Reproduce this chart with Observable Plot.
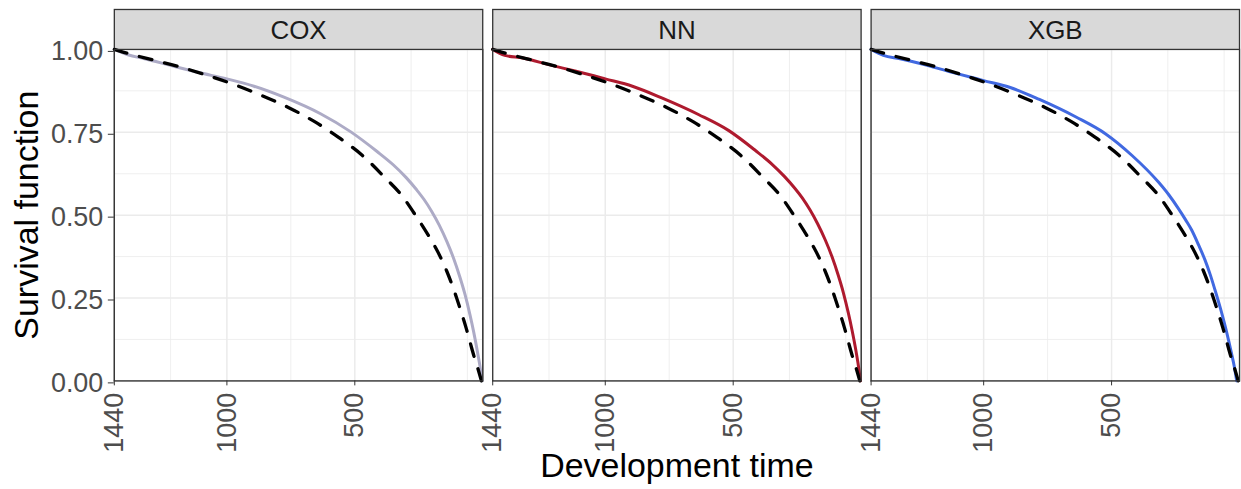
<!DOCTYPE html>
<html><head><meta charset="utf-8">
<script src="https://cdn.jsdelivr.net/npm/d3@7"></script>
<script src="https://cdn.jsdelivr.net/npm/@observablehq/plot@0.6"></script>
<style>
html,body{margin:0;padding:0;background:#fff;overflow:hidden;}
#chart svg{display:block;}
</style></head><body><div id="chart"></div>
<script>
const models = ["COX", "NN", "XGB"];
const modelColors = ["#ADABC6", "#AE1A2E", "#4169E1"];
const xTicks = [1440, 1000, 500];
const xMajorGrid = [1440, 1000, 500];
const xMinorGrid = [1220, 750, 280, 60];
const yTicks = [0, 0.25, 0.5, 0.75, 1];
const yMinorGrid = [0.125, 0.375, 0.625, 0.875];

// reference (dashed) survival curve, same in every panel
const refTime = [1440, 1406, 1293, 1192, 1082, 971, 864, 760, 657, 562, 470, 387, 309, 270, 244, 210, 183, 160, 140, 120, 101, 83, 65, 50, 34, 20, 5];
const refSurv = [1.000, 0.992, 0.969, 0.949, 0.923, 0.894, 0.861, 0.825, 0.782, 0.734, 0.680, 0.617, 0.552, 0.508, 0.478, 0.436, 0.400, 0.365, 0.330, 0.290, 0.248, 0.205, 0.160, 0.118, 0.074, 0.040, 0.000];

const coxTime = [1440, 1387, 1322, 1221, 1114, 1000, 894, 777, 634, 517, 413, 350, 300, 260, 230, 200, 170, 140, 114, 90, 69, 50, 36, 20, 8, 3];
const coxSurv = [1.000, 0.984, 0.972, 0.952, 0.931, 0.911, 0.889, 0.856, 0.806, 0.752, 0.692, 0.652, 0.614, 0.578, 0.548, 0.512, 0.470, 0.420, 0.370, 0.315, 0.260, 0.200, 0.150, 0.085, 0.030, 0.000];

const nnTime = [1440, 1393, 1322, 1221, 1114, 1000, 894, 777, 634, 517, 413, 350, 300, 260, 230, 200, 170, 140, 114, 90, 69, 50, 36, 20, 8, 3];
const nnSurv = [1.000, 0.982, 0.974, 0.954, 0.934, 0.911, 0.889, 0.853, 0.803, 0.755, 0.695, 0.655, 0.617, 0.582, 0.552, 0.516, 0.474, 0.425, 0.375, 0.320, 0.265, 0.205, 0.155, 0.090, 0.032, 0.000];

const xgbTime = [1440, 1392, 1327, 1221, 1119, 1000, 899, 782, 639, 523, 420, 316, 275, 238, 210, 187, 160, 135, 115, 96, 75, 57, 42, 31, 20, 11];
const xgbSurv = [1.000, 0.982, 0.972, 0.952, 0.930, 0.906, 0.886, 0.849, 0.796, 0.745, 0.680, 0.599, 0.560, 0.519, 0.485, 0.455, 0.410, 0.365, 0.322, 0.275, 0.220, 0.168, 0.120, 0.082, 0.042, 0.000];

const seriesTime = {COX: coxTime, NN: nnTime, XGB: xgbTime};
const seriesSurv = {COX: coxSurv, NN: nnSurv, XGB: xgbSurv};

const modelRows = models.flatMap(m => seriesTime[m].map((t, i) => ({model: m, t, s: seriesSurv[m][i]})));
const refRows = refTime.map((t, i) => ({t, s: refSurv[i]}));

const chart = Plot.plot({
  width: 1243,
  height: 489,
  marginLeft: 113,
  marginRight: 0,
  marginTop: 49,
  marginBottom: 108,
  style: {fontFamily: "'Liberation Sans', Arial, sans-serif", background: "white"},
  fx: {domain: models, paddingInner: 0.0263, paddingOuter: 0, axis: null, label: null},
  x: {domain: [1440, 0], label: null},
  y: {domain: [0, 1], label: null},
  color: {domain: models, range: modelColors},
  marks: [
    Plot.frame({fill: "#D9D9D9", stroke: "#333333", strokeWidth: 1.3, insetTop: -40}),
    Plot.frame({fill: "white"}),
    Plot.ruleY(yMinorGrid, {stroke: "#EBEBEB", strokeWidth: 0.8}),
    Plot.ruleX(xMinorGrid, {stroke: "#EBEBEB", strokeWidth: 0.8}),
    Plot.ruleY(yTicks, {stroke: "#EBEBEB", strokeWidth: 1.5}),
    Plot.ruleX(xMajorGrid, {stroke: "#EBEBEB", strokeWidth: 1.5}),
    Plot.line(modelRows, {x: "t", y: "s", fx: "model", stroke: "model", strokeWidth: 3, curve: "monotone-x"}),
    Plot.line(refRows, {x: "t", y: "s", stroke: "black", strokeWidth: 3.3, strokeDasharray: "13,13", curve: "monotone-x"}),
    Plot.frame({stroke: "#333333", strokeWidth: 1.3}),
    Plot.text(models, {fx: d => d, text: d => d, frameAnchor: "top", lineAnchor: "middle", dy: -19, fontSize: 26, fill: "#1A1A1A"}),
    Plot.axisX(xTicks, {tickRotate: -90, fontSize: 27, tickSize: 5, tickPadding: 7, stroke: "#333333", fill: "#4D4D4D", tickFormat: d => String(d), label: null}),
    Plot.axisY(yTicks, {fontSize: 27, tickSize: 6, tickPadding: 5, stroke: "#333333", fill: "#4D4D4D", tickFormat: d3.format(".2f"), label: null, dy: 2}),
    Plot.text(["Survival function"], {fx: () => "COX", text: d => d, frameAnchor: "left", textAnchor: "middle", rotate: -90, lineAnchor: "bottom", dx: -76, fontSize: 34, fill: "black"}),
    Plot.text(["Development time"], {fx: () => "NN", text: d => d, frameAnchor: "bottom", textAnchor: "middle", lineAnchor: "bottom", dy: 96, fontSize: 34, fill: "black"})
  ]
});
document.getElementById("chart").appendChild(chart);
</script>
</body></html>
